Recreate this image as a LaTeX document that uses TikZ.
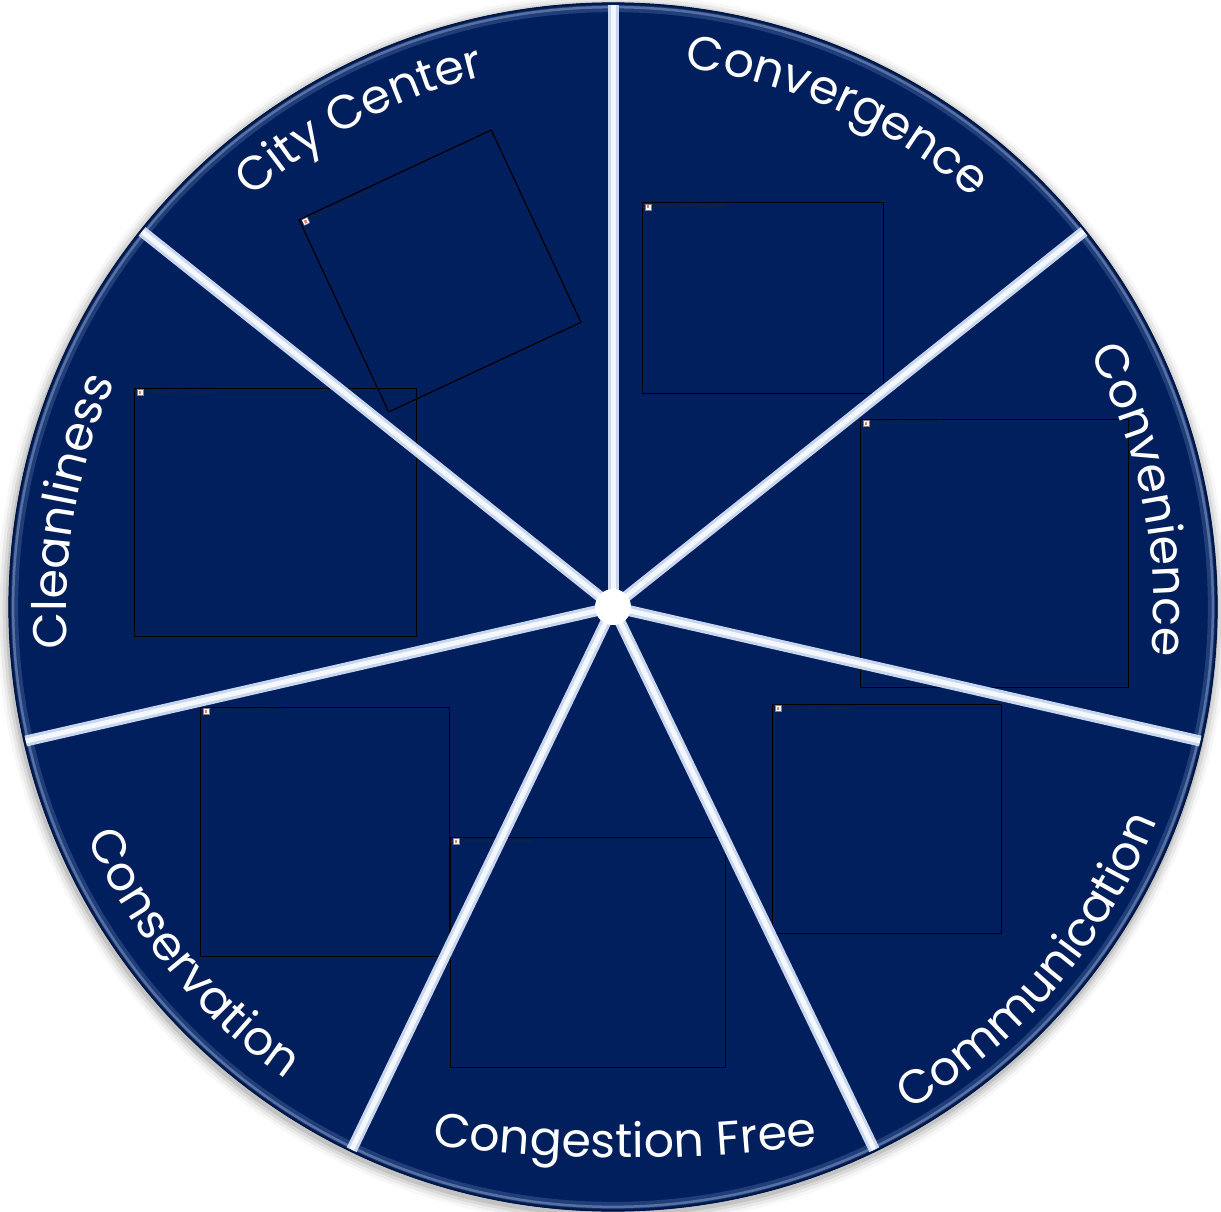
\documentclass[tikz,border=0pt]{standalone}
\usepackage{fontspec}
\setmainfont{Poppins}
\usetikzlibrary{decorations.text,calc}
\definecolor{navy}{RGB}{0,31,92}
\definecolor{spokeblue}{RGB}{200,215,238}
\definecolor{edgeblue}{RGB}{70,100,160}
\definecolor{iconred}{RGB}{235,120,110}
\tikzset{
  phbox/.style={draw=black, line width=0.012cm, inner sep=0pt},
  spokeouter/.style={spokeblue, line width=0.11cm, line cap=butt},
  spokeinner/.style={white, line width=0.05cm, opacity=0.8, line cap=butt},
  hubdot/.style={circle, fill=white, minimum size=0.36cm, inner sep=0pt},
  phtext/.style={anchor=west, inner sep=0pt, text=black!85, font=\fontsize{0.9}{1}\selectfont}
}
\newcommand\phcontent[2]{%
  \begin{scope}[shift={(#1.north west)}, rotate=#2]
    \draw[black!50, fill=white, line width=0.1pt] (3,-2) rectangle (9,-8);
    \fill[iconred] (4.5,-3.5) rectangle (7,-6.8);
    \node[phtext, rotate=#2] at (12,-5) {Das Bild kann zurzeit nicht angezeigt werden.};
  \end{scope}}
\newcommand\cwlabel[3]{%
  \path[decorate, decoration={text along path, text align=center, text color=white,
     text={|\fontsize{13.5}{15}\selectfont|#3}}]
     ($(C)+(#1+40:#2)$) arc[start angle=#1+40, end angle=#1-40, radius=#2];}
\newcommand\ccwlabel[3]{%
  \path[decorate, decoration={text along path, text align=center, text color=white,
     text={|\fontsize{13.5}{15}\selectfont|#3}}]
     ($(C)+(#1-40:#2)$) arc[start angle=#1-40, end angle=#1+40, radius=#2];}
\begin{document}
\begin{tikzpicture}[x=0.01cm,y=0.01cm]
\useasboundingbox (0,0) rectangle (1221,1211);
\coordinate (C) at (613,604);
% soft shadow
\foreach \r/\op in {6.15cm/0.03,6.12cm/0.05,6.09cm/0.07,6.06cm/0.1}{
  \fill[black, opacity=\op] ($(C)+(-1,-3)$) circle[radius=\r];}
% disc
\fill[navy] (C) circle[radius=6.04cm];
\draw[edgeblue, line width=0.07cm, opacity=0.45] (C) circle[radius=5.98cm];
\draw[edgeblue!60!white, line width=0.025cm, opacity=0.5] (C) circle[radius=5.995cm];
\draw[navy!70!black, line width=0.015cm] (C) circle[radius=6.035cm];
% placeholders
\node[phbox, minimum width=2.41cm, minimum height=1.91cm, anchor=south west] (phA) at (642,817) {};
\node[phbox, minimum width=2.68cm, minimum height=2.68cm, anchor=south west] (phB) at (860,523) {};
\node[phbox, minimum width=2.29cm, minimum height=2.29cm, anchor=south west] (phC) at (772,277) {};
\node[phbox, minimum width=2.75cm, minimum height=2.30cm, anchor=south west] (phD) at (450,143) {};
\node[phbox, minimum width=2.49cm, minimum height=2.49cm, anchor=south west] (phE) at (200,254) {};
\node[phbox, minimum width=2.82cm, minimum height=2.48cm, anchor=south west] (phF) at (134,574) {};
\node[phbox, minimum width=2.12cm, minimum height=2.12cm, rotate=25] (phG) at (440,940) {};
\phcontent{phA}{0}
\phcontent{phB}{0}
\phcontent{phC}{0}
\phcontent{phD}{0}
\phcontent{phE}{0}
\phcontent{phF}{0}
\phcontent{phG}{25}
% spokes
\foreach \i/\a in {1/90,2/38.571,3/-12.857,4/-64.286,5/-115.714,6/-167.143,7/-218.571}{
  \coordinate (e\i) at ($(C)+(\a:6.02cm)$);
  \draw[spokeouter] (C) -- (e\i);
  \draw[spokeinner] (C) -- (e\i);
}
\node[hubdot] (hub) at (C) {};
% labels
\cwlabel{117.5}{5.46cm}{City Center}
\cwlabel{65.5}{5.44cm}{Convergence}
\cwlabel{11.5}{5.40cm}{Convenience}
\cwlabel{170}{5.46cm}{Cleanliness}
\ccwlabel{-40.5}{5.84cm}{Communication}
\ccwlabel{-140.5}{5.74cm}{Conservation}
\coordinate (cf) at (625,1554);
\path[decorate, decoration={text along path, text align=center, text color=white,
     text={|\fontsize{13.5}{15}\selectfont|Congestion Free}}]
     ($(cf)+(-105:15cm)$) arc[start angle=-105, end angle=-75, radius=15cm];
\end{tikzpicture}
\end{document}
